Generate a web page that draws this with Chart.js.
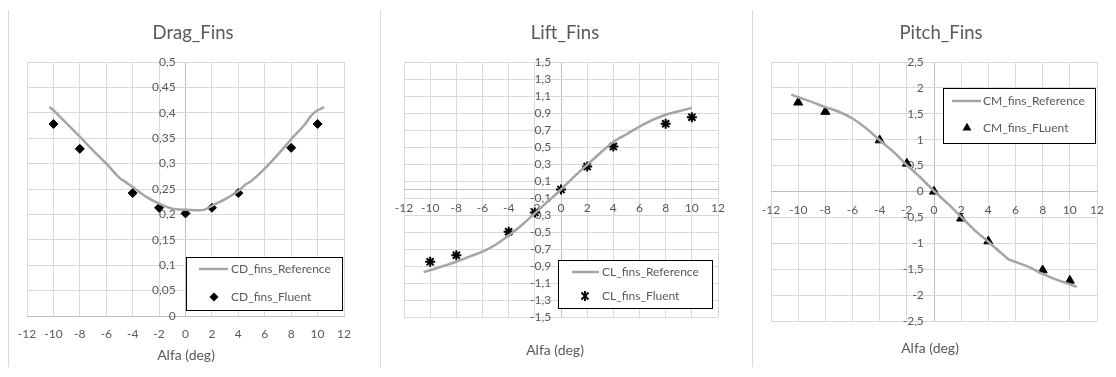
<!DOCTYPE html>
<html><head><meta charset="utf-8">
<script src="https://cdn.jsdelivr.net/npm/chart.js@4.4.0/dist/chart.umd.min.js"></script>
<style>
body{margin:0;background:#fff;width:1116px;height:377px;overflow:hidden;position:relative}
.panel{position:absolute;top:0;width:372px;height:377px}
.sep{position:absolute;top:10px;height:357px;width:1px;background:#d9d9d9}
</style></head>
<body>
<div class="sep" style="left:8px"></div>
<div class="sep" style="left:380px"></div>
<div class="sep" style="left:752px"></div>
<div class="panel" style="left:0"><canvas id="c1" width="372" height="377"></canvas></div>
<div class="panel" style="left:372px"><canvas id="c2" width="372" height="377"></canvas></div>
<div class="panel" style="left:744px"><canvas id="c3" width="372" height="377"></canvas></div>
<script>
// ---- data ----
const xTicks = [-12,-10,-8,-6,-4,-2,0,2,4,6,8,10,12];
const dragYTicks = [0,0.05,0.1,0.15,0.2,0.25,0.3,0.35,0.4,0.45,0.5];
const liftYTicks = [-1.5,-1.3,-1.1,-0.9,-0.7,-0.5,-0.3,-0.1,0.1,0.3,0.5,0.7,0.9,1.1,1.3,1.5];
const pitchYTicks = [-2.5,-2,-1.5,-1,-0.5,0,0.5,1,1.5,2,2.5];

const fluentAlpha = [-10,-8,-4,-2,0,2,4,8,10];
const dragFluent = [0.378,0.329,0.242,0.213,0.202,0.213,0.242,0.331,0.378];
const dragRefAlpha = [-10.3,-10,-9,-8,-7,-6,-5,-4.5,-4,-3,-2,-1,0,1,1.5,2,3,4,4.5,5,6,7,8,9,9.5,10,10.5];
const dragRef = [0.412,0.405,0.379,0.353,0.326,0.300,0.272,0.263,0.254,0.235,0.221,0.211,0.209,0.208,0.210,0.217,0.230,0.246,0.258,0.266,0.290,0.318,0.348,0.376,0.394,0.405,0.411];

const liftFluent = [-0.851,-0.773,-0.497,-0.27,0.0,0.27,0.505,0.773,0.851];
const liftRefAlpha = [-10.5,-10,-9,-8,-7,-6,-5,-4,-3,-2,-1,0,1,2,3,4,5,6,7,8,9,10];
const liftRef = [-0.97,-0.95,-0.90,-0.85,-0.79,-0.73,-0.65,-0.54,-0.42,-0.28,-0.14,0.0,0.15,0.29,0.43,0.56,0.65,0.74,0.82,0.88,0.92,0.96];

const pitchFluent = [1.72,1.54,0.99,0.54,0.0,-0.52,-0.96,-1.52,-1.72];
const pitchRefAlpha = [-10.5,-10,-9,-8,-7,-6,-5,-4,-3,-2,-1,0,1,2,3,4,5,5.5,6,7,8,9,10,10.5];
const pitchRef = [1.87,1.82,1.73,1.63,1.54,1.41,1.22,0.99,0.77,0.51,0.27,0.01,-0.23,-0.49,-0.75,-0.97,-1.2,-1.31,-1.36,-1.46,-1.59,-1.70,-1.79,-1.84];

// ---- rendering ----
const FONT = "Lato, 'Liberation Sans', sans-serif";
const TXT = '#595959';
const GRID = '#d9d9d9';
const AXIS = '#bfbfbf';
const zip = (xs, ys) => xs.map((x,i)=>({x, y: ys[i]}));
const fmt = v => String(v).replace('.', ',');

function drawMarker(ctx, style, r, x, y){
  ctx.save();
  ctx.fillStyle = '#000'; ctx.strokeStyle = '#000';
  ctx.beginPath();
  if (style === 'rectRot'){
    ctx.moveTo(x, y-r); ctx.lineTo(x+r, y); ctx.lineTo(x, y+r); ctx.lineTo(x-r, y); ctx.closePath(); ctx.fill();
  } else if (style === 'triangle'){
    const a = 2*Math.PI/3;
    for (let k=0;k<3;k++){ const t=k*a; const px=x+Math.sin(t)*r, py=y-Math.cos(t)*r; k?ctx.lineTo(px,py):ctx.moveTo(px,py);} ctx.closePath(); ctx.fill();
  } else {
    ctx.lineWidth = 2;
    const d = r*Math.SQRT1_2;
    ctx.moveTo(x-d,y-d); ctx.lineTo(x+d,y+d); ctx.moveTo(x+d,y-d); ctx.lineTo(x-d,y+d);
    ctx.moveTo(x,y-r); ctx.lineTo(x,y+r);
    ctx.stroke();
  }
  ctx.restore();
}

const deco = {
  id: 'deco',
  afterDraw(chart, args, o){
    const ctx = chart.ctx;
    ctx.save();
    ctx.fillStyle = TXT; ctx.textAlign = 'center'; ctx.textBaseline = 'middle';
    ctx.font = '18.5px ' + FONT;
    ctx.fillText(o.title, o.titleX, o.titleY);
    ctx.font = '14px ' + FONT;
    ctx.fillText(o.axisTitle, o.axisX, o.axisY);
    const L = o.legend;
    ctx.fillStyle = '#fff';
    ctx.fillRect(L.x, L.y, L.w, L.h);
    ctx.strokeStyle = '#000'; ctx.lineWidth = 1;
    ctx.strokeRect(L.x + 0.5, L.y + 0.5, L.w, L.h);
    chart.data.datasets.forEach((ds, i) => {
      const y = L.rows[i];
      if (ds.showLine){
        ctx.strokeStyle = ds.borderColor; ctx.lineWidth = ds.borderWidth;
        ctx.beginPath(); ctx.moveTo(L.lineX[0], y); ctx.lineTo(L.lineX[1], y); ctx.stroke();
      } else {
        drawMarker(ctx, ds.pointStyle, ds.pointRadius, L.markerX, y);
      }
      ctx.fillStyle = TXT; ctx.textAlign = 'left'; ctx.font = '12px ' + FONT;
      ctx.fillText(ds.label, L.textX, y);
    });
    ctx.restore();
  }
};

function makeChart(id, cfg){
  const yt = cfg.yTicks;
  return new Chart(document.getElementById(id), {
    data: {
      datasets: [
        { type: 'line', label: cfg.refLabel, data: zip(cfg.refX, cfg.refY), showLine: true,
          borderColor: '#a5a5a5', borderWidth: 2.5, pointRadius: 0, tension: 0.25, fill: false },
        { type: 'scatter', label: cfg.fluLabel, data: zip(fluentAlpha, cfg.fluY), showLine: false,
          pointStyle: cfg.marker, pointRadius: cfg.markerR, borderWidth: cfg.marker==='star'?2:1,
          backgroundColor: '#000', borderColor: '#000' }
      ]
    },
    options: {
      responsive: false, animation: false, devicePixelRatio: 1,
      layout: { padding: cfg.pad },
      plugins: { legend: { display: false }, tooltip: { enabled: false }, title: { display: false },
        deco: cfg.deco },
      scales: {
        x: { type: 'linear', min: -12, max: 12, position: { y: 0 },
          afterBuildTicks: s => { s.ticks = xTicks.map(v => ({ value: v })); },
          grid: { color: c => (c.tick && c.tick.value === 0 ? AXIS : GRID), drawTicks: false },
          border: { color: AXIS },
          ticks: { autoSkip: false, maxRotation: 0, padding: 11, color: TXT, font: { family: FONT, size: 12 } } },
        y: { type: 'linear', min: yt[0], max: yt[yt.length-1], position: { x: -0.75 },
          afterBuildTicks: s => { s.ticks = yt.map(v => ({ value: v })); },
          grid: { color: GRID, drawTicks: false },
          border: { display: false },
          ticks: { autoSkip: false, padding: 0, color: TXT, font: { family: FONT, size: 12 }, callback: v => fmt(v) } }
      }
    },
    plugins: [deco]
  });
}

makeChart('c1', {
  yTicks: dragYTicks, refX: dragRefAlpha, refY: dragRef, fluY: dragFluent,
  refLabel: 'CD_fins_Reference', fluLabel: 'CD_fins_Fluent', marker: 'rectRot', markerR: 4.5,
  pad: { left: 27, right: 28, top: 62, bottom: 61 },
  deco: { title: 'Drag_Fins', titleX: 193, titleY: 33, axisTitle: 'Alfa (deg)', axisX: 186, axisY: 355,
    legend: { x: 186, y: 257, w: 156, h: 53, rows: [269, 297], lineX: [199, 228], markerX: 214, textX: 231 } }
});
makeChart('c2', {
  yTicks: liftYTicks, refX: liftRefAlpha, refY: liftRef, fluY: liftFluent,
  refLabel: 'CL_fins_Reference', fluLabel: 'CL_fins_Fluent', marker: 'star', markerR: 5,
  pad: { left: 32, right: 26, top: 62, bottom: 60 },
  deco: { title: 'Lift_Fins', titleX: 193, titleY: 33, axisTitle: 'Alfa (deg)', axisX: 183, axisY: 350,
    legend: { x: 186, y: 260, w: 154, h: 48, rows: [272, 296], lineX: [200, 227], markerX: 213, textX: 230 } }
});
makeChart('c3', {
  yTicks: pitchYTicks, refX: pitchRefAlpha, refY: pitchRef, fluY: pitchFluent,
  refLabel: 'CM_fins_Reference', fluLabel: 'CM_fins_FLuent', marker: 'triangle', markerR: 5.2,
  pad: { left: 27, right: 19, top: 62, bottom: 56 },
  deco: { title: 'Pitch_Fins', titleX: 197, titleY: 33, axisTitle: 'Alfa (deg)', axisX: 186, axisY: 348,
    legend: { x: 199, y: 88, w: 152, h: 55, rows: [101, 128], lineX: [208, 237], markerX: 223, textX: 239 } }
});
</script>
</body></html>
